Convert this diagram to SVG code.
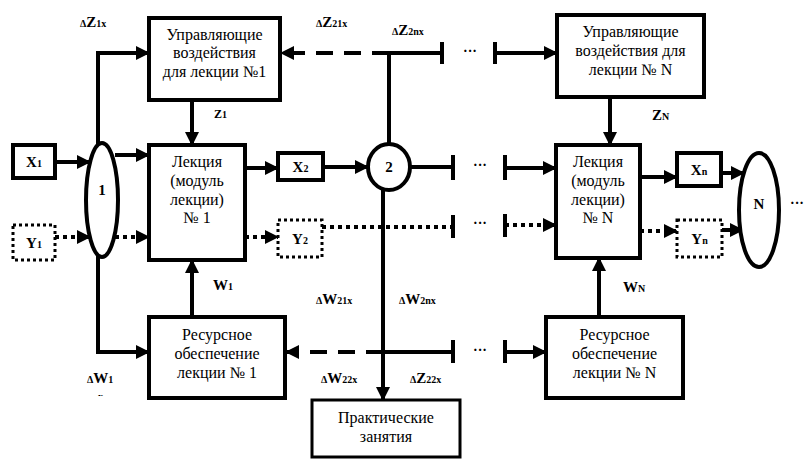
<svg xmlns="http://www.w3.org/2000/svg" width="805" height="461" viewBox="0 0 805 461" font-family="Liberation Serif, DejaVu Serif, serif">
<defs>
<marker id="ah" markerUnits="userSpaceOnUse" markerWidth="14" markerHeight="14" refX="13" refY="7" orient="auto"><path d="M0,0 L14,7 L0,14 z" fill="#000"/></marker>
<clipPath id="clipx"><rect x="0" y="0" width="805" height="396"/></clipPath>
</defs>
<style>
.box{fill:#fff;stroke:#000;stroke-width:4}
.dbox{fill:#fff;stroke:#000;stroke-width:3;stroke-dasharray:3 3}
.t{font-size:16px;text-anchor:middle;fill:#000}
.lb{font-weight:bold;fill:#000;font-size:15px}
.sm{font-size:10px}
.ln{fill:none;stroke:#000;stroke-width:4}
.ar{fill:none;stroke:#000;stroke-width:4;marker-end:url(#ah)}
.dash{fill:none;stroke:#000;stroke-width:4;stroke-dasharray:17 11;marker-end:url(#ah)}
.dot{fill:none;stroke:#000;stroke-width:4;stroke-dasharray:4 4}
.dotar{fill:none;stroke:#000;stroke-width:4;stroke-dasharray:4 4;marker-end:url(#ah)}
.el{fill:#fff;stroke:#000;stroke-width:4}
</style>
<g id="connectors">
<path class="ar" d="M98,150 L98,53 L149,53"/>
<path class="ar" d="M98,250 L98,352 L149,352"/>
<path class="ar" d="M192,100 L192,145"/>
<path class="ar" d="M55,162 L90,162"/>
<path class="ar" d="M115,155 L149,155"/>
<path class="dotar" d="M55,237 L90,237"/>
<path class="dotar" d="M115,237 L149,237"/>
<path class="ar" d="M245,168 L278,168"/>
<path class="dotar" d="M245,237 L278,237"/>
<path class="ar" d="M323,167 L368,167"/>
<path class="ln" d="M410,167 L453,167 M453,155 L453,180 M505,155 L505,180"/>
<path class="ar" d="M505,168 L556,168"/>
<path class="dot" d="M322,227 L453,227"/>
<path class="ln" d="M453,215 L453,238 M505,214 L505,237"/>
<path class="dotar" d="M505,225 L556,225"/>
<path class="ln" d="M389,145 L389,53 L442,53 M442,42 L442,64 M495,42 L495,64"/>
<path class="dash" d="M389,53 L281,53"/>
<path class="ar" d="M495,53 L557,53"/>
<path class="ar" d="M610,97 L610,145"/>
<path class="ar" d="M640,177 L677,177"/>
<path class="ar" d="M721,173 L744,173"/>
<path class="dotar" d="M640,231 L677,231"/>
<path class="ar" d="M722,230 L743,230"/>
<path class="ar" d="M599,317 L599,258"/>
<path class="ar" d="M192,317 L192,260"/>
<path class="ar" d="M383,188 L383,400"/>
<path class="dash" d="M383,352 L286,352"/>
<path class="ln" d="M383,352 L453,352 M453,340 L453,363 M505,340 L505,363"/>
<path class="ar" d="M505,352 L546,352"/>
</g>
<g id="dots" class="lb">
<text x="470" y="56" font-size="14" text-anchor="middle">···</text>
<text x="480" y="170" font-size="14" text-anchor="middle">···</text>
<text x="480" y="228" font-size="14" text-anchor="middle">···</text>
<text x="480" y="355" font-size="14" text-anchor="middle">···</text>
<text x="797" y="208" font-size="14" text-anchor="middle">···</text>
</g>
<g id="upr1"><rect class="box" x="149" y="18" width="131" height="82"/>
<text class="t" x="214.5" y="40">Управляющие</text><text class="t" x="214.5" y="58">воздействия</text><text class="t" x="214.5" y="77">для лекции №1</text></g>
<g id="uprN"><rect class="box" x="557" y="15" width="147" height="82"/>
<text class="t" x="630.5" y="37">Управляющие</text><text class="t" x="630.5" y="56">воздействия для</text><text class="t" x="630.5" y="75">лекции № N</text></g>
<g id="lec1"><rect class="box" x="149" y="145" width="96" height="115"/>
<text class="t" x="197" y="167">Лекция</text><text class="t" x="197" y="186">(модуль</text><text class="t" x="197" y="205">лекции)</text><text class="t" x="197" y="223">№ 1</text></g>
<g id="lecN"><rect class="box" x="556" y="145" width="84" height="113"/>
<text class="t" x="598" y="167">Лекция</text><text class="t" x="598" y="186">(модуль</text><text class="t" x="598" y="205">лекции)</text><text class="t" x="598" y="223">№ N</text></g>
<g id="res1"><rect class="box" x="149" y="317" width="136" height="81"/>
<text class="t" x="217" y="340">Ресурсное</text><text class="t" x="217" y="359">обеспечение</text><text class="t" x="217" y="378">лекции № 1</text></g>
<g id="resN"><rect class="box" x="546" y="317" width="137" height="81"/>
<text class="t" x="614.5" y="340">Ресурсное</text><text class="t" x="614.5" y="359">обеспечение</text><text class="t" x="614.5" y="378">лекции № N</text></g>
<g id="prak"><rect class="box" x="312" y="400" width="148" height="57" style="stroke-width:3"/>
<text class="t" x="386" y="423">Практические</text><text class="t" x="386" y="442">занятия</text></g>
<g id="x1"><rect class="box" x="13" y="145" width="42" height="33"/><text class="lb" x="34" y="167" text-anchor="middle">X<tspan class="sm">1</tspan></text></g>
<g id="y1"><rect class="dbox" x="13" y="225" width="42" height="35"/><text class="lb" x="34" y="248" text-anchor="middle">Y<tspan class="sm">1</tspan></text></g>
<g id="x2"><rect class="box" x="278" y="153" width="45" height="27"/><text class="lb" x="300.5" y="172" text-anchor="middle">X<tspan class="sm">2</tspan></text></g>
<g id="y2"><rect class="dbox" x="278" y="220" width="44" height="37"/><text class="lb" x="300" y="244" text-anchor="middle">Y<tspan class="sm">2</tspan></text></g>
<g id="xn"><rect class="box" x="677" y="153" width="44" height="33"/><text class="lb" x="699" y="175" text-anchor="middle">X<tspan class="sm">n</tspan></text></g>
<g id="yn"><rect class="dbox" x="677" y="220" width="45" height="37"/><text class="lb" x="699.5" y="244" text-anchor="middle">Y<tspan class="sm">n</tspan></text></g>
<g id="e1"><ellipse class="el" cx="102" cy="200" rx="16" ry="57"/><text class="lb" x="102" y="195" font-size="13" text-anchor="middle">1</text></g>
<g id="c2"><ellipse class="el" cx="389" cy="167" rx="21" ry="23"/><text class="lb" x="389" y="172" font-size="14" text-anchor="middle">2</text></g>
<g id="eN"><ellipse class="el" cx="759" cy="210" rx="20" ry="57"/><text class="lb" x="759" y="209" font-size="15" text-anchor="middle">N</text></g>
<g id="labels" class="lb">
<text x="80" y="27"><tspan class="sm">Δ</tspan>Z<tspan class="sm">1x</tspan></text>
<text x="214" y="118" font-size="12">Z<tspan class="sm">1</tspan></text>
<text x="316" y="27"><tspan class="sm">Δ</tspan>Z<tspan class="sm">21x</tspan></text>
<text x="392" y="35"><tspan class="sm">Δ</tspan>Z<tspan class="sm">2nx</tspan></text>
<text x="652" y="120">Z<tspan class="sm">N</tspan></text>
<text x="213" y="290">W<tspan class="sm">1</tspan></text>
<text x="623" y="292">W<tspan class="sm">N</tspan></text>
<text x="316" y="304"><tspan class="sm">Δ</tspan>W<tspan class="sm">21x</tspan></text>
<text x="399" y="304"><tspan class="sm">Δ</tspan>W<tspan class="sm">2nx</tspan></text>
<text x="321" y="383"><tspan class="sm">Δ</tspan>W<tspan class="sm">22x</tspan></text>
<text x="410" y="383"><tspan class="sm">Δ</tspan>Z<tspan class="sm">22x</tspan></text>
<text x="87" y="383"><tspan class="sm">Δ</tspan>W<tspan class="sm">1</tspan></text>
<text x="98" y="400" class="sm" clip-path="url(#clipx)">x</text>
</g>
</svg>
